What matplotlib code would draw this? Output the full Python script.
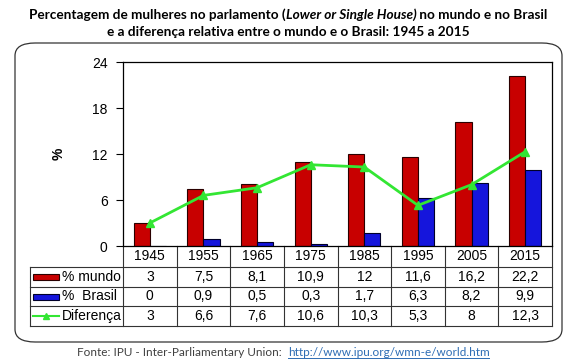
import matplotlib.pyplot as plt
import matplotlib.transforms as mtransforms
from matplotlib.patches import FancyBboxPatch, Rectangle
from matplotlib.lines import Line2D

anos = ['1945', '1955', '1965', '1975', '1985', '1995', '2005', '2015']
mundo = [3, 7.5, 8.1, 10.9, 12, 11.6, 16.2, 22.2]
brasil = [0, 0.9, 0.5, 0.3, 1.7, 6.3, 8.2, 9.9]
diferenca = [3, 6.6, 7.6, 10.6, 10.3, 5.3, 8, 12.3]

mundo_txt = ['3', '7,5', '8,1', '10,9', '12', '11,6', '16,2', '22,2']
brasil_txt = ['0', '0,9', '0,5', '0,3', '1,7', '6,3', '8,2', '9,9']
dif_txt = ['3', '6,6', '7,6', '10,6', '10,3', '5,3', '8', '12,3']
rotulos = ['% mundo', '%  Brasil', 'Diferença']

W, H = 577, 363
fig = plt.figure(figsize=(W / 100, H / 100), dpi=100)
plt.rcParams['font.family'] = ['Liberation Sans', 'DejaVu Sans']

def fx(px):
    return px / W

def fy(py):
    return 1 - py / H

# rounded frame
frame = FancyBboxPatch((fx(15), fy(342)), fx(562) - fx(15), fy(43) - fy(342),
                       boxstyle='round,pad=0,rounding_size=0.035',
                       transform=fig.transFigure, facecolor='white',
                       edgecolor='#333333', linewidth=0.9, zorder=-5)
fig.patches.append(frame)

ax = fig.add_axes([fx(123), fy(246), fx(552) - fx(123), fy(62) - fy(246)])
ax.set_zorder(2)

x = list(range(len(anos)))
w = 0.3
ax.bar([i - w / 2 for i in x], mundo, width=w, color='#C80000', edgecolor='#2a0000', linewidth=0.8, zorder=2)
ax.bar([i + w / 2 for i in x], brasil, width=w, color='#1515DC', edgecolor='#00002a', linewidth=0.8, zorder=2)
ax.plot(x, diferenca, color='#33E633', lw=2, marker='^', markersize=5.5, zorder=3)

ax.set_xlim(-0.5, 7.5)
ax.set_ylim(0, 24)
ax.set_yticks([0, 6, 12, 18, 24])
ax.set_xticks([])
ax.tick_params(axis='y', labelsize=10, length=5, width=0.8, pad=6)
for s in ax.spines.values():
    s.set_linewidth(0.9)
ax.set_ylabel('%', fontsize=10, fontweight='bold', labelpad=19)

# data table below the axes
tr = mtransforms.blended_transform_factory(ax.transData, ax.transAxes)
ah = 184.0
def ay(py):
    return -(py - 246) / ah

xl = -0.5 - 93 / 53.6
rows_y = [ay(246), ay(267), ay(287), ay(306), ay(326)]
lc = '#333333'

def hline(x0, x1, y):
    ax.add_line(Line2D([x0, x1], [y, y], transform=tr, color=lc, lw=0.8, clip_on=False))

def vline(xx, y0, y1):
    ax.add_line(Line2D([xx, xx], [y0, y1], transform=tr, color=lc, lw=0.8, clip_on=False))

for y in rows_y[1:]:
    hline(xl, 7.5, y)
for i in range(9):
    vline(i - 0.5, rows_y[0], rows_y[-1])
vline(xl, rows_y[1], rows_y[-1])

for i, a in enumerate(anos):
    ax.text(i, (rows_y[0] + rows_y[1]) / 2, a, transform=tr, ha='center', va='center', fontsize=10)

for r, vals in enumerate([mundo_txt, brasil_txt, dif_txt]):
    yc = (rows_y[r + 1] + rows_y[r + 2]) / 2
    for i, v in enumerate(vals):
        ax.text(i, yc, v, transform=tr, ha='center', va='center', fontsize=10)
    ax.text(xl + 32 / 53.6, yc, rotulos[r], transform=tr, ha='left', va='center', fontsize=10)

# legend keys in the table
kx0 = xl + 3 / 53.6
kw = 26 / 53.6
for r, (fc, ec) in enumerate([('#C80000', '#2a0000'), ('#1515DC', '#00002a')]):
    yc = (rows_y[r + 1] + rows_y[r + 2]) / 2
    ax.add_patch(Rectangle((kx0, yc - 3 / ah), kw, 6 / ah, transform=tr, facecolor=fc,
                           edgecolor=ec, lw=0.8, clip_on=False))
yc = (rows_y[3] + rows_y[4]) / 2
ax.add_line(Line2D([kx0, kx0 + kw], [yc, yc], transform=tr, color='#33E633', lw=1.5, clip_on=False))
ax.add_line(Line2D([kx0 + kw / 2], [yc], transform=tr, color='#33E633', marker='^', markersize=5, clip_on=False))

# title, first line in three pieces (middle one italic)
partes = [('Percentagem de mulheres no parlamento (', 'normal'),
          ('Lower or Single House)', 'italic'),
          (' no mundo e no Brasil', 'normal')]
fig.canvas.draw()
rend = fig.canvas.get_renderer()
objs = []
for s, st in partes:
    objs.append(fig.text(0, fy(15), s, ha='left', va='center', fontsize=9.8,
                         fontweight='bold', style=st, family='Lato'))
larg = [o.get_window_extent(rend).width for o in objs]
x0 = (W - sum(larg)) / 2
for o, lw_ in zip(objs, larg):
    o.set_x(x0 / W)
    x0 += lw_
fig.text(0.5, fy(32), 'e a diferença relativa entre o mundo e o Brasil: 1945 a 2015',
         ha='center', va='center', fontsize=9.8, fontweight='bold', family='Lato')

# footer
t1 = fig.text(fx(77), fy(352), 'Fonte: IPU - Inter-Parliamentary Union:  ', ha='left', va='center',
              fontsize=8.5, color='#404040', family='Lato')
bb = t1.get_window_extent(rend)
t2 = fig.text(bb.x1 / W, fy(352), 'http://www.ipu.org/wmn-e/world.htm', ha='left', va='center',
              fontsize=8.5, color='#2E6DB4', family='Lato')
bb2 = t2.get_window_extent(rend)
fig.add_artist(Line2D([bb2.x0 / W, bb2.x1 / W], [bb2.y0 / H - 0.002, bb2.y0 / H - 0.002],
                      transform=fig.transFigure, color='#2E6DB4', lw=0.7))

fig.savefig('out.png', dpi=100)
